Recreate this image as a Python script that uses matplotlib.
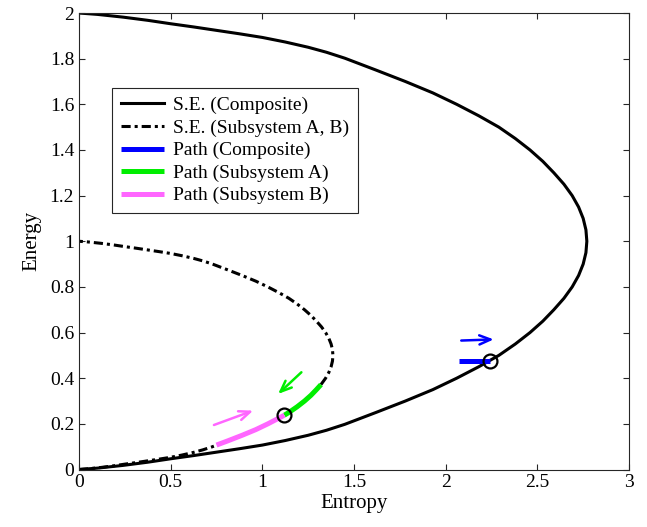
import matplotlib
matplotlib.use('Agg')
import matplotlib.pyplot as plt

plt.rcParams['font.family'] = ['Liberation Serif', 'DejaVu Serif']

# Stable-equilibrium curve of the composite (entropy, energy)
comp_S = [0, 0.1, 0.24, 0.375, 0.5, 0.625, 0.75, 0.875, 1.0, 1.125, 1.25, 1.35, 1.45, 1.62, 1.78, 1.93,
          2.06, 2.18, 2.29, 2.38, 2.46, 2.53, 2.59, 2.645, 2.69, 2.725, 2.75, 2.765, 2.77,
          2.765, 2.75, 2.725, 2.69, 2.645, 2.59, 2.53, 2.46, 2.38, 2.29, 2.18, 2.06, 1.93, 1.78, 1.62,
          1.45, 1.35, 1.25, 1.125, 1.0, 0.875, 0.75, 0.625, 0.5, 0.375, 0.24, 0.1, 0]
comp_E = [0, 0.006, 0.018, 0.032, 0.047, 0.061, 0.076, 0.091, 0.107, 0.127, 0.15, 0.172, 0.198, 0.25, 0.3, 0.35,
          0.4, 0.45, 0.5, 0.55, 0.6, 0.65, 0.7, 0.75, 0.8, 0.85, 0.9, 0.95, 1.0,
          1.05, 1.1, 1.15, 1.2, 1.25, 1.3, 1.35, 1.4, 1.45, 1.5, 1.55, 1.6, 1.65, 1.7, 1.75,
          1.802, 1.828, 1.85, 1.873, 1.893, 1.909, 1.924, 1.939, 1.953, 1.968, 1.982, 1.994, 2.0]

# Stable-equilibrium curve of subsystems A and B
sub_S = [0, 0.05, 0.12, 0.1875, 0.25, 0.3125, 0.375, 0.4375, 0.5, 0.5625, 0.625, 0.675, 0.725, 0.81, 0.89,
         0.965, 1.03, 1.09, 1.145, 1.19, 1.23, 1.265, 1.295, 1.3225, 1.345, 1.3625, 1.375, 1.3825, 1.385,
         1.3825, 1.375, 1.3625, 1.345, 1.3225, 1.295, 1.265, 1.23, 1.19, 1.145, 1.09, 1.03, 0.965, 0.89,
         0.81, 0.725, 0.675, 0.625, 0.5625, 0.5, 0.4375, 0.375, 0.3125, 0.25, 0.1875, 0.12, 0.05, 0]
sub_E = [0, 0.003, 0.009, 0.016, 0.0235, 0.0305, 0.038, 0.0455, 0.0535, 0.0635, 0.075, 0.086, 0.099, 0.125, 0.15,
         0.175, 0.2, 0.225, 0.25, 0.275, 0.3, 0.325, 0.35, 0.375, 0.4, 0.425, 0.45, 0.475, 0.5,
         0.525, 0.55, 0.575, 0.6, 0.625, 0.65, 0.675, 0.7, 0.725, 0.75, 0.775, 0.8, 0.825, 0.85,
         0.875, 0.901, 0.914, 0.925, 0.9365, 0.9465, 0.9545, 0.962, 0.9695, 0.9765, 0.984, 0.991, 0.997, 1.0]

# Paths
pathC_S = [2.075, 2.24]
pathC_E = [0.476, 0.476]
pathA_S = [1.12, 1.145, 1.19, 1.23, 1.265, 1.295, 1.32]
pathA_E = [0.238, 0.25, 0.275, 0.3, 0.325, 0.35, 0.372]
pathB_S = [0.75, 0.81, 0.89, 0.965, 1.03, 1.09, 1.12]
pathB_E = [0.107, 0.125, 0.15, 0.175, 0.2, 0.225, 0.238]

# states (circles) and arrows (start, end)
state_S = [1.12, 2.24]
state_E = [0.238, 0.476]
arrows = [((2.085, 0.565), (2.262, 0.570), 'blue'),
          ((1.213, 0.426), (1.086, 0.331), '#00ee00'),
          ((0.736, 0.195), (0.950, 0.258), '#ff66ff')]

fig = plt.figure(figsize=(6.47, 5.27), dpi=100)
ax = fig.add_axes([0.1221, 0.1091, 0.8501, 0.8662])

ax.plot(comp_S, comp_E, color='k', lw=2.2, label='S.E. (Composite)')
ax.plot(sub_S, sub_E, color='k', lw=2.2, linestyle=(0, (3, 1.3, 1, 1.3)), label='S.E. (Subsystem A, B)')
ax.plot(pathC_S, pathC_E, color='blue', lw=3.6, solid_capstyle='butt', label='Path (Composite)')
ax.plot(pathA_S, pathA_E, color='#00ee00', lw=3.6, solid_capstyle='butt', label='Path (Subsystem A)')
ax.plot(pathB_S, pathB_E, color='#ff66ff', lw=3.6, solid_capstyle='butt', label='Path (Subsystem B)')
ax.plot(state_S, state_E, 'o', mfc='none', mec='k', mew=1.6, ms=10)

for start, end, c in arrows:
    ax.annotate('', xy=end, xytext=start,
                arrowprops=dict(arrowstyle='->,head_length=0.8,head_width=0.33', color=c, lw=1.8,
                                shrinkA=0, shrinkB=0))

ax.set_xlim(0, 3)
ax.set_ylim(0, 2)
ax.set_xticks([0, 0.5, 1, 1.5, 2, 2.5, 3])
ax.set_xticklabels(['0', '0.5', '1', '1.5', '2', '2.5', '3'])
ax.set_yticks([0, 0.2, 0.4, 0.6, 0.8, 1, 1.2, 1.4, 1.6, 1.8, 2])
ax.set_yticklabels(['0', '0.2', '0.4', '0.6', '0.8', '1', '1.2', '1.4', '1.6', '1.8', '2'])
ax.tick_params(direction='in', top=True, right=True, length=4, width=0.8, labelsize=14,
               colors='#262626', labelcolor='k')
for s in ax.spines.values():
    s.set_color('#262626')
    s.set_linewidth(0.8)
ax.set_xlabel('Entropy', fontsize=15, labelpad=2)
ax.set_ylabel('Energy', fontsize=15, labelpad=6)

leg = ax.legend(loc='upper left', bbox_to_anchor=(0.06, 0.836), borderaxespad=0, fontsize=14,
                handlelength=2.2, handletextpad=0.5, labelspacing=0.25, fancybox=False,
                edgecolor='#262626', framealpha=1, borderpad=0.45)
leg.get_frame().set_linewidth(0.8)

fig.savefig('out.png', dpi=100)
